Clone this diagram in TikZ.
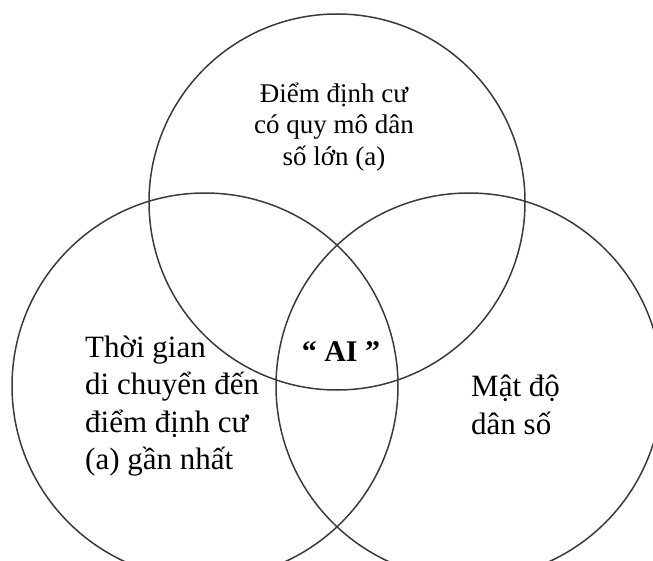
\documentclass[tikz,border=0pt]{standalone}
\usepackage{fontspec}
\setmainfont{Liberation Serif}
\usetikzlibrary{positioning}
\definecolor{cLine}{HTML}{3A3A3A}

\begin{document}
\begin{tikzpicture}[
    x=1pt, y=1pt,
    ring/.style={draw=cLine, line width=1.5pt},
    lblTop/.style={align=center, inner sep=0pt, font=\fontsize{27}{31.5}\selectfont},
    lblSide/.style={align=left, inner sep=0pt, font=\fontsize{31}{37.5}\selectfont},
    lblCore/.style={inner sep=0pt, font=\fontsize{30}{34}\selectfont\bfseries},
]
\useasboundingbox (0,0) rectangle (653,560);
\clip (0,0) rectangle (653,560);

% ===================== Ba vòng tròn =====================
\draw[ring] (337,358) circle[radius=188pt];
\draw[ring] (205,174) circle[radius=193pt];
\draw[ring] (469,174) circle[radius=193pt];

% ===================== Nhãn =====================
\node[lblTop] (sizeLbl) at (334,433) {Điểm định cư\\có quy mô dân\\số lớn (a)};
\node[lblSide, anchor=west] (timeLbl) at (85,154)
      {Thời gian\\di chuyển đến\\điểm định cư\\(a) gần nhất};
\node[lblSide, anchor=west] (densLbl) at (471,155) {Mật độ\\dân số};

% ===================== Giao ba vòng =====================
\node[lblCore] (aiLbl) at (341,208) {“ AI ”};

\end{tikzpicture}
\end{document}
